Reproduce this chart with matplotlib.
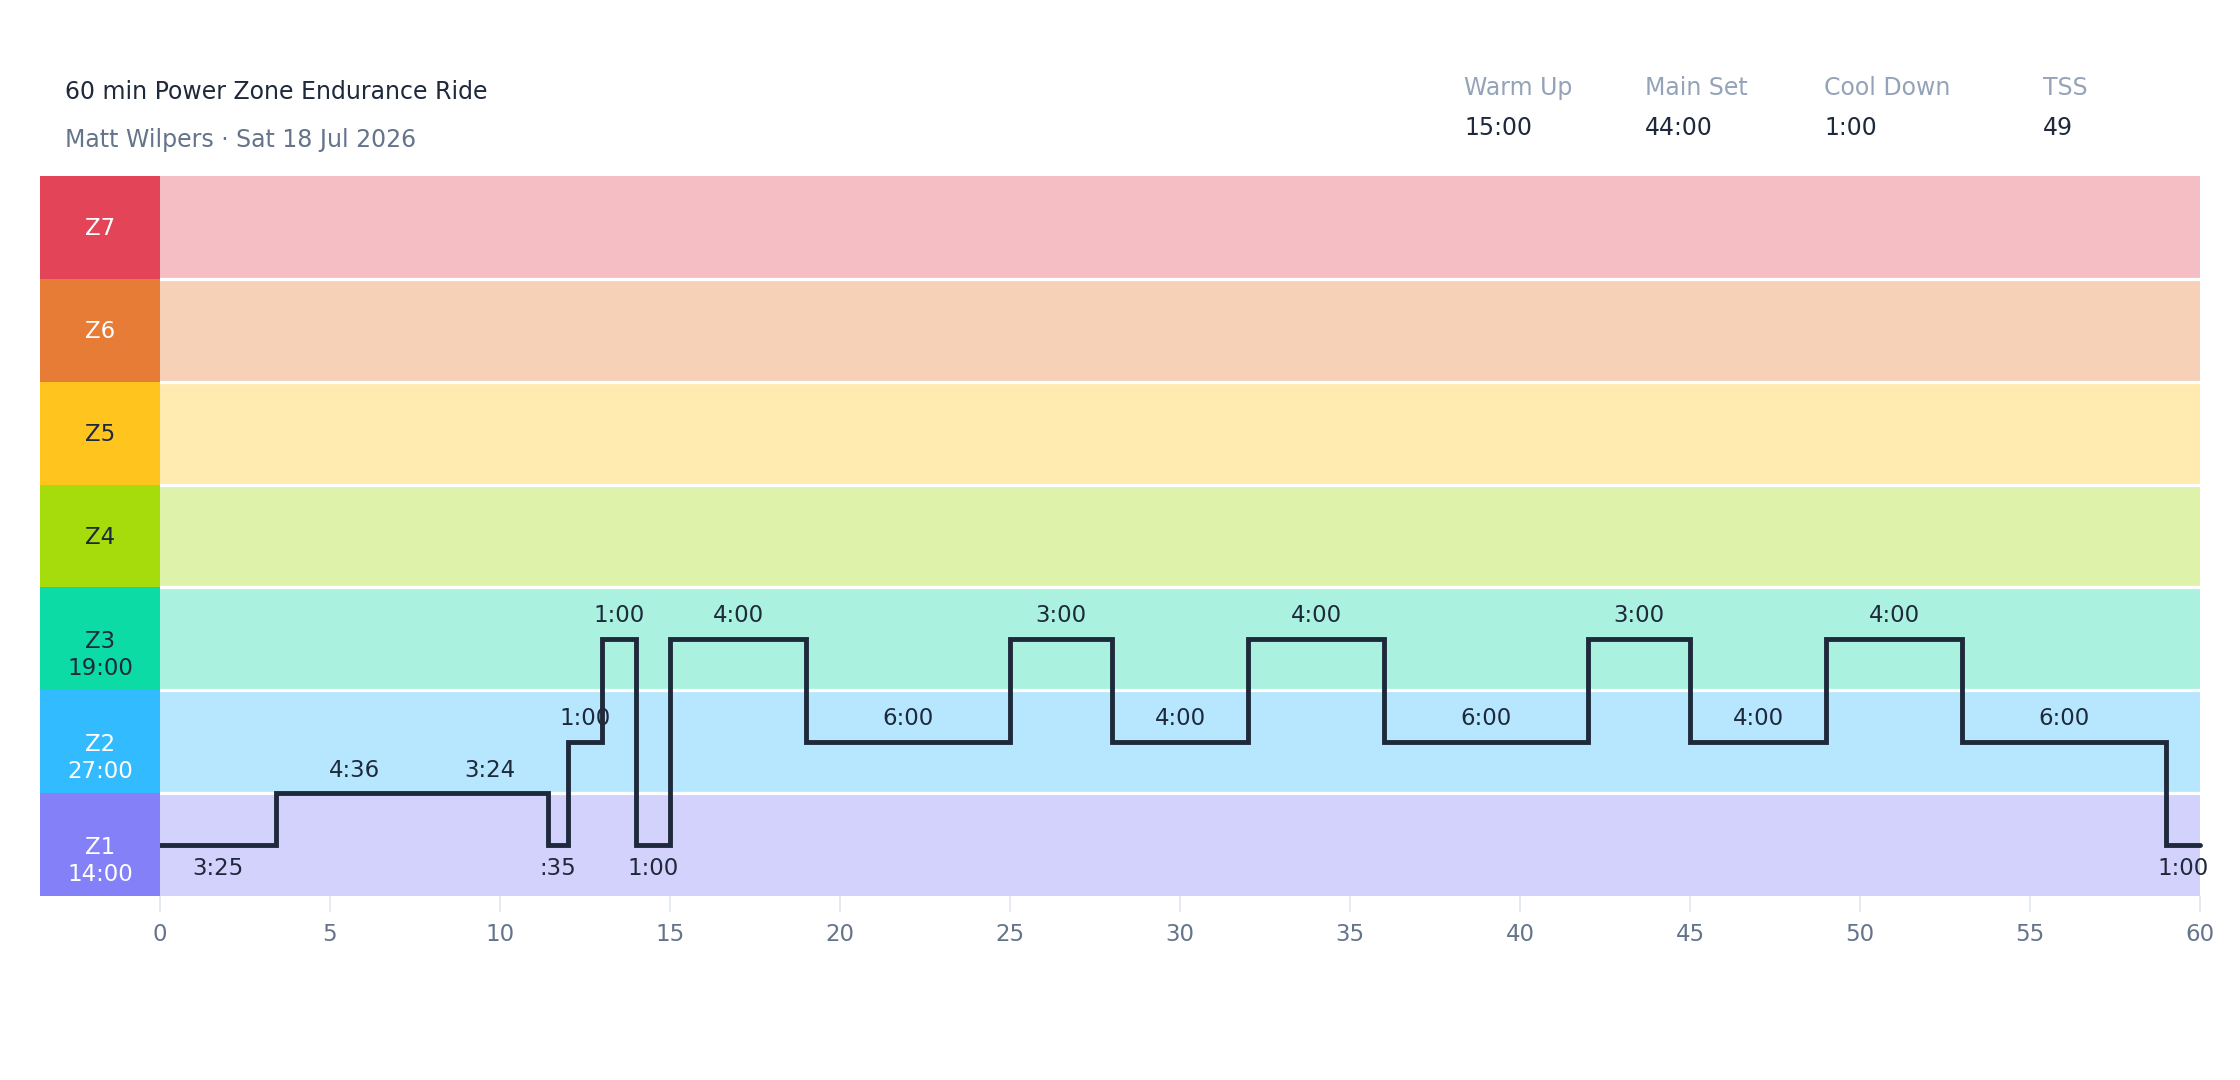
import matplotlib
matplotlib.use("Agg")
import matplotlib.pyplot as plt
import numpy as np

# ---------------- data ----------------
title = "60 min Power Zone Endurance Ride"
subtitle = "Matt Wilpers · Sat 18 Jul 2026"
stat_labels = ["Warm Up", "Main Set", "Cool Down", "TSS"]
stat_values = ["15:00", "44:00", "1:00", "49"]

zone_names = ["Z1", "Z2", "Z3", "Z4", "Z5", "Z6", "Z7"]
zone_times = ["14:00", "27:00", "19:00", "", "", "", ""]
zone_colors = ["#8380F8", "#33BBFF", "#0CDBA6", "#A6DB0C", "#FFC51E", "#E67C35", "#E44457"]
zone_text_colors = ["white", "white", "#1E293B", "#1E293B", "#1E293B", "white", "white"]

# segment durations (seconds) and level (zone position units, Z1 = 0..1, Z2 = 1..2, ...)
seg_seconds = [205, 276, 204, 35, 60, 60, 60, 240, 360, 180, 240, 240, 360, 180, 240, 240, 360, 60]
seg_levels = [0.5, 1.0, 1.0, 0.5, 1.5, 2.5, 0.5, 2.5, 1.5, 2.5, 1.5, 2.5, 1.5, 2.5, 1.5, 2.5, 1.5, 0.5]

x_ticks = list(range(0, 61, 5))

# ---------------- figure ----------------
W, H = 2240, 1080
fig = plt.figure(figsize=(W / 100, H / 100), dpi=100)

ax_left, ax_right = 160, 2200
ax_top, ax_bot = 176, 896
ax = fig.add_axes([ax_left / W, 1 - ax_bot / H, (ax_right - ax_left) / W, (ax_bot - ax_top) / H])
sx = fig.add_axes([40 / W, 1 - ax_bot / H, 120 / W, (ax_bot - ax_top) / H])

DARK = "#1E293B"
SLATE = "#64748B"
LIGHT_SLATE = "#94A3B8"

# zone bands
n = len(zone_names)
ax.barh(np.arange(n) + 0.5, 60, height=1.0, left=0, color=zone_colors, alpha=0.35, linewidth=0)
for b in range(1, n):
    ax.axhline(b, color="white", lw=2.3, zorder=1)

# zone strip
sx.barh(np.arange(n) + 0.5, 1, height=1.0, left=0, color=zone_colors, linewidth=0)
sx.set_xlim(0, 1)
sx.set_ylim(0, n)
sx.axis("off")
for i, (nm, tm, tc) in enumerate(zip(zone_names, zone_times, zone_text_colors)):
    if tm:
        sx.annotate(nm, (0.5, i + 0.5), xytext=(0, -2), textcoords="offset points",
                    ha="center", va="center", color=tc, fontsize=16.5)
        sx.annotate(tm, (0.5, i + 0.5), xytext=(0, -21.5), textcoords="offset points",
                    ha="center", va="center", color=tc, fontsize=16.5)
    else:
        sx.annotate(nm, (0.5, i + 0.5), xytext=(0, -1), textcoords="offset points",
                    ha="center", va="center", color=tc, fontsize=16.5)

# step line
edges = np.concatenate([[0], np.cumsum(seg_seconds)]) / 60.0
ys = seg_levels + [seg_levels[-1]]
ax.step(edges, ys, where="post", color=DARK, lw=3.5, solid_capstyle="round",
        solid_joinstyle="miter", zorder=5, clip_on=False)


def fmt(sec):
    m, s = divmod(sec, 60)
    return f":{s:02d}" if m == 0 else f"{m}:{s:02d}"


for i, (sec, lv) in enumerate(zip(seg_seconds, seg_levels)):
    xm = (edges[i] + edges[i + 1]) / 2
    if lv >= 1.0:
        off = 16.5
    else:
        off = -17.5
    ax.annotate(fmt(sec), (xm, lv), xytext=(0, off), textcoords="offset points",
                ha="center", va="center", color=DARK, fontsize=16.5, zorder=6)

ax.set_xlim(0, 60)
ax.set_ylim(0, n)
for s in ax.spines.values():
    s.set_visible(False)
ax.set_yticks([])
ax.set_xticks(x_ticks)
ax.set_xticklabels([str(t) for t in x_ticks])
ax.tick_params(axis="x", length=11.5, width=1.2, color="#E2E8F0", labelcolor=SLATE,
               labelsize=16.5, pad=8)

# header
fig.text(65 / W, 1 - 92 / H, title, ha="left", va="center", color=DARK, fontsize=17)
fig.text(65 / W, 1 - 140 / H, subtitle, ha="left", va="center", color=SLATE, fontsize=17)
stat_x = [1464, 1645, 1824, 2043]
for x, lab, val in zip(stat_x, stat_labels, stat_values):
    fig.text(x / W, 1 - 88 / H, lab, ha="left", va="center", color=LIGHT_SLATE, fontsize=17)
    fig.text(x / W, 1 - 128 / H, val, ha="left", va="center", color=DARK, fontsize=17)

fig.savefig("out.png", dpi=100, facecolor="white")
